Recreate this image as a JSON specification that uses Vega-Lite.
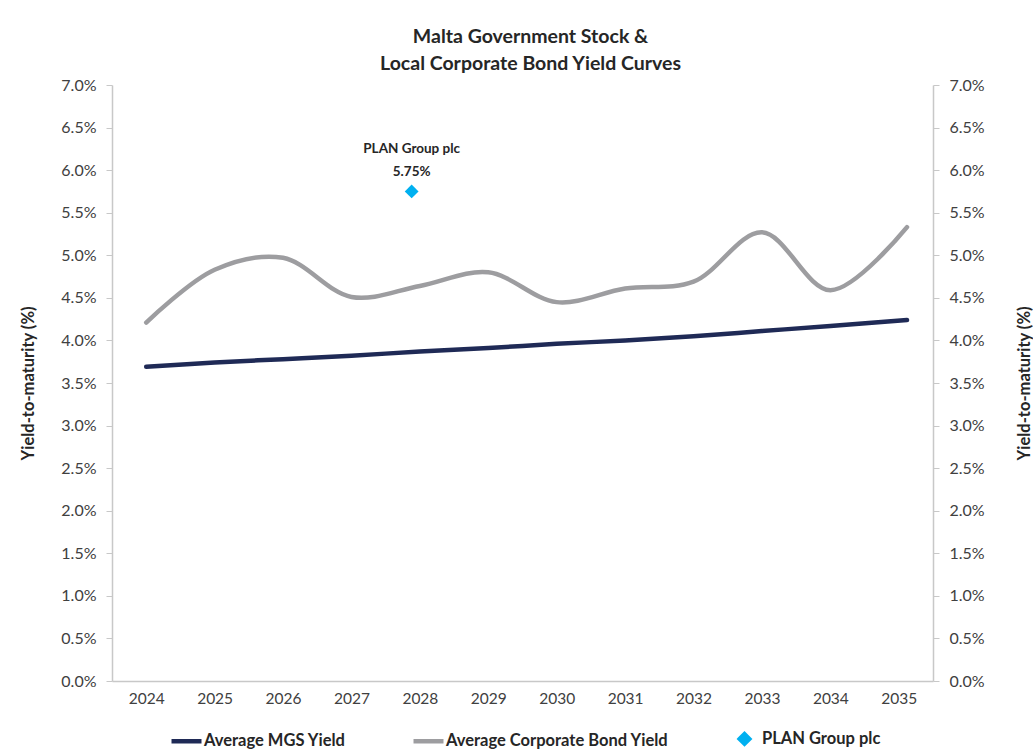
{
  "$schema": "https://vega.github.io/schema/vega-lite/v6.json",
  "width": 821,
  "height": 596,
  "autosize": {"type": "none"},
  "padding": {"left": 112, "top": 85, "right": 100, "bottom": 75},
  "background": "white",
  "title": {
    "text": ["Malta Government Stock &", "Local Corporate Bond Yield Curves"],
    "font": "Lato",
    "fontSize": 19.5,
    "fontWeight": "bold",
    "color": "#262626",
    "lineHeight": 27,
    "anchor": "middle",
    "dx": 8,
    "offset": 3
  },
  "data": {
    "values": [
      {"series": "Average MGS Yield", "year": 2024.0, "yield": 0.0369},
      {"series": "Average MGS Yield", "year": 2025.0, "yield": 0.0374},
      {"series": "Average MGS Yield", "year": 2026.0, "yield": 0.0378},
      {"series": "Average MGS Yield", "year": 2027.0, "yield": 0.0382},
      {"series": "Average MGS Yield", "year": 2028.0, "yield": 0.0387},
      {"series": "Average MGS Yield", "year": 2029.0, "yield": 0.0391},
      {"series": "Average MGS Yield", "year": 2030.0, "yield": 0.0396},
      {"series": "Average MGS Yield", "year": 2031.0, "yield": 0.0400},
      {"series": "Average MGS Yield", "year": 2032.0, "yield": 0.0405},
      {"series": "Average MGS Yield", "year": 2033.0, "yield": 0.0411},
      {"series": "Average MGS Yield", "year": 2034.0, "yield": 0.0417},
      {"series": "Average MGS Yield", "year": 2035.12, "yield": 0.0424},
      {"series": "Average Corporate Bond Yield", "year": 2024.0, "yield": 0.0421},
      {"series": "Average Corporate Bond Yield", "year": 2025.0, "yield": 0.0483},
      {"series": "Average Corporate Bond Yield", "year": 2026.0, "yield": 0.0497},
      {"series": "Average Corporate Bond Yield", "year": 2027.0, "yield": 0.0451},
      {"series": "Average Corporate Bond Yield", "year": 2028.0, "yield": 0.0464},
      {"series": "Average Corporate Bond Yield", "year": 2029.0, "yield": 0.0480},
      {"series": "Average Corporate Bond Yield", "year": 2030.0, "yield": 0.0445},
      {"series": "Average Corporate Bond Yield", "year": 2031.0, "yield": 0.0461},
      {"series": "Average Corporate Bond Yield", "year": 2032.0, "yield": 0.0469},
      {"series": "Average Corporate Bond Yield", "year": 2033.0, "yield": 0.0527},
      {"series": "Average Corporate Bond Yield", "year": 2034.0, "yield": 0.0459},
      {"series": "Average Corporate Bond Yield", "year": 2035.12, "yield": 0.0533},
      {"series": "PLAN Group plc", "year": 2027.88, "yield": 0.0575}
    ]
  },
  "encoding": {
    "x": {
      "field": "year",
      "type": "quantitative",
      "scale": {"domain": [2023.5, 2035.5], "nice": false, "zero": false},
      "axis": {
        "values": [2024, 2025, 2026, 2027, 2028, 2029, 2030, 2031, 2032, 2033, 2034, 2035],
        "format": "d",
        "title": null,
        "grid": false,
        "ticks": false,
        "labelPadding": 10,
        "domainColor": "#c8c8c8",
        "domainWidth": 1.5,
        "labelFont": "Lato",
        "labelFontSize": 15.5,
        "labelColor": "#404040"
      }
    }
  },
  "layer": [
    {
      "transform": [{"filter": "datum.series !== 'PLAN Group plc'"}],
      "mark": {"type": "line", "interpolate": "catmull-rom", "strokeWidth": 4.5, "strokeCap": "round"},
      "encoding": {
        "y": {
          "field": "yield",
          "type": "quantitative",
          "scale": {"domain": [0, 0.07], "nice": false},
          "axis": {
            "orient": "left",
            "values": [0, 0.005, 0.01, 0.015, 0.02, 0.025, 0.03, 0.035, 0.04, 0.045, 0.05, 0.055, 0.06, 0.065, 0.07],
            "format": ".1%",
            "title": "Yield-to-maturity (%)",
            "titleFont": "Lato",
            "titleFontSize": 16.5,
            "titleFontWeight": "bold",
            "titleColor": "#262626",
            "titlePadding": 24,
            "grid": false,
            "tickSize": 6,
            "tickColor": "#c8c8c8",
            "domainColor": "#c8c8c8",
            "domainWidth": 1.5,
            "labelPadding": 10,
            "labelFont": "Lato",
            "labelFontSize": 16,
            "labelColor": "#404040"
          }
        },
        "color": {
          "field": "series",
          "type": "nominal",
          "scale": {
            "domain": ["Average MGS Yield", "Average Corporate Bond Yield", "PLAN Group plc"],
            "range": ["#1f2a56", "#9d9da0", "#00b0f0"]
          },
          "legend": {
            "orient": "none",
            "legendX": 57,
            "legendY": 636,
            "direction": "horizontal",
            "title": null,
            "labelFont": "Lato",
            "labelFontSize": 16.5,
            "labelFontWeight": "bold",
            "labelColor": "#262626",
            "labelLimit": 400,
            "labelOffset": 0,
            "columnPadding": 58,
            "symbolStrokeWidth": 4.5,
            "encode": {
              "symbols": {
                "update": {
                  "shape": {"signal": "datum.value === 'PLAN Group plc' ? 'diamond' : 'stroke'"},
                  "size": {"signal": "datum.value === 'PLAN Group plc' ? 90 : 900"},
                  "fill": {"signal": "datum.value === 'PLAN Group plc' ? '#00b0f0' : 'transparent'"},
                  "stroke": {"signal": "datum.value === 'PLAN Group plc' ? 'transparent' : (datum.value === 'Average MGS Yield' ? '#1f2a56' : '#9d9da0')"},
                  "strokeWidth": {"value": 4.5},
                  "opacity": {"value": 1}
                }
              }
            }
          }
        }
      }
    },
    {
      "transform": [{"filter": "datum.series === 'PLAN Group plc'"}],
      "mark": {"type": "point", "shape": "diamond", "filled": true, "size": 190, "opacity": 1},
      "encoding": {
        "y": {
          "field": "yield",
          "type": "quantitative",
          "scale": {"domain": [0, 0.07], "nice": false},
          "axis": {
            "orient": "right",
            "values": [0, 0.005, 0.01, 0.015, 0.02, 0.025, 0.03, 0.035, 0.04, 0.045, 0.05, 0.055, 0.06, 0.065, 0.07],
            "format": ".1%",
            "title": "Yield-to-maturity (%)",
            "titleAngle": 270,
            "titleFont": "Lato",
            "titleFontSize": 16.5,
            "titleFontWeight": "bold",
            "titleColor": "#262626",
            "titlePadding": 48,
            "grid": false,
            "tickSize": 6,
            "tickColor": "#c8c8c8",
            "domainColor": "#c8c8c8",
            "domainWidth": 1.5,
            "labelPadding": 10,
            "labelFont": "Lato",
            "labelFontSize": 16,
            "labelColor": "#404040"
          }
        },
        "color": {"field": "series", "type": "nominal"}
      }
    },
    {
      "transform": [{"filter": "datum.series === 'PLAN Group plc'"}],
      "mark": {"type": "text", "font": "Lato", "fontSize": 13.5, "fontWeight": "bold", "color": "#262626", "dy": -42},
      "encoding": {
        "y": {"field": "yield", "type": "quantitative", "scale": {"domain": [0, 0.07], "nice": false}, "axis": null},
        "text": {"field": "series"}
      }
    },
    {
      "transform": [{"filter": "datum.series === 'PLAN Group plc'"}],
      "mark": {"type": "text", "font": "Lato", "fontSize": 13.5, "fontWeight": "bold", "color": "#262626", "dy": -19},
      "encoding": {
        "y": {"field": "yield", "type": "quantitative", "scale": {"domain": [0, 0.07], "nice": false}, "axis": null},
        "text": {"field": "yield", "format": ".2%"}
      }
    }
  ],
  "resolve": {"scale": {"y": "independent"}},
  "config": {"view": {"stroke": null}}
}
